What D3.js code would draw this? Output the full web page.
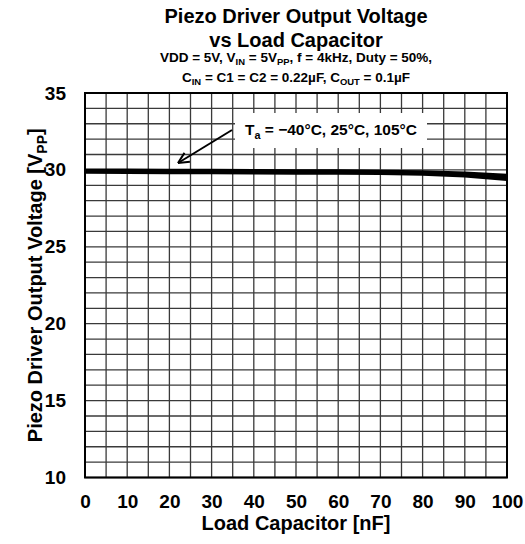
<!DOCTYPE html>
<html><head><meta charset="utf-8">
<script src="https://cdn.jsdelivr.net/npm/d3@7"></script>
<style>
html,body{margin:0;padding:0;background:#fff;}
text{font-family:"Liberation Sans",Arial,sans-serif;font-weight:bold;fill:#000;}
</style></head>
<body><svg id="c" width="525" height="544"></svg>
<script>
const loadCap = [0,10,20,30,40,50,60,70,80,90,100];
const vMinus40 = [30.00,29.99,29.98,29.97,29.96,29.95,29.94,29.92,29.88,29.80,29.66];
const v25      = [29.92,29.91,29.90,29.89,29.88,29.87,29.86,29.84,29.80,29.70,29.52];
const v105     = [29.84,29.83,29.82,29.81,29.80,29.79,29.78,29.76,29.72,29.60,29.38];
const xTicks = [0,10,20,30,40,50,60,70,80,90,100];
const yTicks = [10,15,20,25,30,35];
const titleLines = ["Piezo Driver Output Voltage","vs Load Capacitor"];

const svg = d3.select("#c");
const L=85, R=507, T=93, B=477.5;
const x = d3.scaleLinear().domain([0,100]).range([L,R]);
const y = d3.scaleLinear().domain([10,35]).range([B,T]);

// grid
const g = svg.append("g");
g.selectAll("line.v").data(d3.range(0,101,5)).join("line")
  .attr("x1",d=>x(d)).attr("x2",d=>x(d)).attr("y1",T).attr("y2",B)
  .attr("stroke","#3a3a3a").attr("stroke-width",1.3);
g.selectAll("line.h").data(d3.range(10,36,1)).join("line")
  .attr("y1",d=>y(d)).attr("y2",d=>y(d)).attr("x1",L).attr("x2",R)
  .attr("stroke","#3a3a3a").attr("stroke-width",1.3);

// axes
const xAxis = d3.axisBottom(x).tickValues(xTicks).tickSize(0).tickPadding(17);
const yAxis = d3.axisLeft(y).tickValues(yTicks).tickSize(0).tickPadding(19);
const gx = svg.append("g").attr("transform",`translate(0,${B})`).call(xAxis);
const gy = svg.append("g").attr("transform",`translate(${L},0)`).call(yAxis);
[gx,gy].forEach(a=>{a.select(".domain").remove();
  a.selectAll("text").attr("font-size",19).attr("font-family","Liberation Sans, Arial, sans-serif").attr("font-weight","bold").attr("fill","#000");});

// series
const line = d3.line().x((d,i)=>x(loadCap[i])).y(d=>y(d));
[vMinus40,v25,v105].forEach(s=>{
  svg.append("path").datum(s).attr("d",line).attr("fill","none")
    .attr("stroke","#000").attr("stroke-width",3);
});

// border
svg.append("rect").attr("x",L).attr("y",T).attr("width",R-L).attr("height",B-T)
  .attr("fill","none").attr("stroke","#000").attr("stroke-width",2);

// rich text helper: parts with t (normal) or s (subscript)
function rich(t, parts, size){
  let down = false;
  parts.forEach(p=>{
    const ts = t.append("tspan").attr("font-size", p.s ? size*0.7 : size).text(p.s || p.t);
    if(p.s && !down){ ts.attr("dy", size*0.25); down = true; }
    else if(!p.s && down){ ts.attr("dy", -size*0.25); down = false; }
  });
}

// annotation
svg.append("rect").attr("x",235).attr("y",113).attr("width",192).attr("height",35).attr("fill","#fff");
const at = svg.append("text").attr("x",331).attr("y",135).attr("text-anchor","middle").attr("font-size",15.5);
rich(at,[{t:"T"},{s:"a"},{t:" = \u221240\u00B0C, 25\u00B0C, 105\u00B0C"}],15.5);
svg.append("line").attr("x1",232).attr("y1",130).attr("x2",178).attr("y2",163)
  .attr("stroke","#000").attr("stroke-width",2);
const ang = Math.atan2(163-130,178-232);
[0.45,-0.45].forEach(da=>{
  svg.append("line").attr("x1",178).attr("y1",163)
    .attr("x2",178-12*Math.cos(ang+da)).attr("y2",163-12*Math.sin(ang+da))
    .attr("stroke","#000").attr("stroke-width",2);
});

// titles
const cx = 296;
svg.append("text").attr("x",cx).attr("y",23).attr("text-anchor","middle").attr("font-size",20).text(titleLines[0]);
svg.append("text").attr("x",cx).attr("y",47).attr("text-anchor","middle").attr("font-size",20).text(titleLines[1]);
const s1 = svg.append("text").attr("x",cx).attr("y",62).attr("text-anchor","middle").attr("font-size",13.5);
rich(s1,[{t:"VDD = 5V, V"},{s:"IN"},{t:" = 5V"},{s:"PP"},{t:", f = 4kHz, Duty = 50%,"}],13.5);
const s2 = svg.append("text").attr("x",cx).attr("y",82).attr("text-anchor","middle").attr("font-size",13.5);
rich(s2,[{t:"C"},{s:"IN"},{t:" = C1 = C2 = 0.22\u00B5F, C"},{s:"OUT"},{t:" = 0.1\u00B5F"}],13.5);

// axis titles
svg.append("text").attr("x",cx).attr("y",530).attr("text-anchor","middle").attr("font-size",20).text("Load Capacitor [nF]");
const yt = svg.append("text").attr("transform",`translate(42,${(T+B)/2}) rotate(-90)`).attr("text-anchor","middle").attr("font-size",20);
rich(yt,[{t:"Piezo Driver Output Voltage [V"},{s:"PP"},{t:"]"}],20);
</script></body></html>
